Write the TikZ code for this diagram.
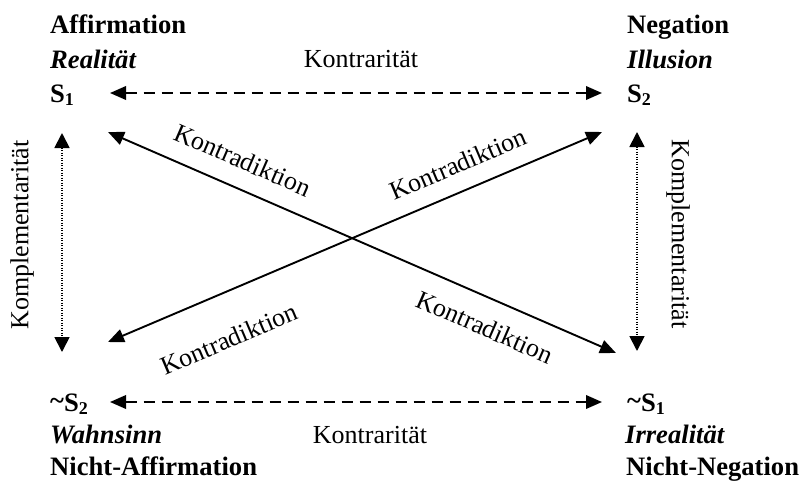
\documentclass[tikz,border=0pt]{standalone}
\usepackage{fontspec}
\setmainfont{Liberation Serif}
\usetikzlibrary{arrows.meta}
\newcommand\lowidx[1]{\raisebox{-0.3ex}{\fontsize{18}{18}\selectfont #1}}
\begin{document}
\begin{tikzpicture}[x=1pt,y=-1pt,
  txt/.style={inner sep=0pt, font=\fontsize{26}{30}\selectfont},
  btxt/.style={inner sep=0pt, anchor=base west, font=\fontsize{26.6}{30}\selectfont\bfseries},
  vhead/.style={{Triangle[length=15pt,width=15pt]}-{Triangle[length=15pt,width=15pt]}},
  twohead/.style={{Triangle[length=16pt,width=13.5pt]}-{Triangle[length=16pt,width=13.5pt]}},
  contrary/.style={twohead, line width=2pt, dash pattern=on 11pt off 7pt},
  complement/.style={vhead, line width=1.8pt, dash pattern=on 1.4pt off 1.1pt},
  contradict/.style={twohead, line width=1.9pt}
]
\useasboundingbox (0,0) rectangle (801,480);

% corner labels
\node[btxt] (aff) at (50,33) {Affirmation};
\node[btxt] (real) at (50,68) {\itshape Realität};
\node[btxt] (s1) at (50,102) {S\lowidx{1}};

\node[btxt] (neg) at (627,33) {Negation};
\node[btxt] (ill) at (627,68) {\itshape Illusion};
\node[btxt] (s2) at (627,102) {S\lowidx{2}};

\node[btxt] (ns2) at (50,411) {\raisebox{0.1ex}{\textasciitilde}S\lowidx{2}};
\node[btxt] (wahn) at (50,443) {\itshape Wahnsinn};
\node[btxt] (naff) at (50,475) {Nicht-Affirmation};

\node[btxt] (ns1) at (627,411) {\raisebox{0.1ex}{\textasciitilde}S\lowidx{1}};
\node[btxt] (irr) at (625,443) {\itshape Irrealität};
\node[btxt] (nneg) at (626,475) {Nicht-Negation};

% arrow end points around the square
\coordinate (tl) at (110,93);
\coordinate (tr) at (602,93);
\coordinate (bl) at (110,402);
\coordinate (br) at (602,402);
\coordinate (lt) at (62,133);
\coordinate (lb) at (62,352);
\coordinate (rt) at (637,132);
\coordinate (rb) at (637,351);
\coordinate (d1a) at (108,132);
\coordinate (d1b) at (616,353);
\coordinate (d2a) at (108,342);
\coordinate (d2b) at (602,132);

% contrariety
\draw[contrary] (tl) -- (tr);
\draw[contrary] (bl) -- (br);
\node[txt, anchor=base] (k1) at (361,67) {Kontrarität};
\node[txt, anchor=base] (k2) at (370,443) {Kontrarität};

% complementarity
\draw[complement] (lt) -- (lb);
\draw[complement] (rt) -- (rb);
\node[txt, rotate=90] (c1) at (22,235) {Komplementarität};
\node[txt, rotate=-90] (c2) at (678,234) {Komplementarität};

% contradiction
\draw[contradict] (d1a) -- (d1b);
\draw[contradict] (d2a) -- (d2b);
\node[txt, rotate=-23.5] (x1) at (243,160) {Kontradiktion};
\node[txt, rotate=23] (x2) at (458,164) {Kontradiktion};
\node[txt, rotate=23] (x3) at (229,339) {Kontradiktion};
\node[txt, rotate=-23.5] (x4) at (485,327) {Kontradiktion};
\end{tikzpicture}
\end{document}
